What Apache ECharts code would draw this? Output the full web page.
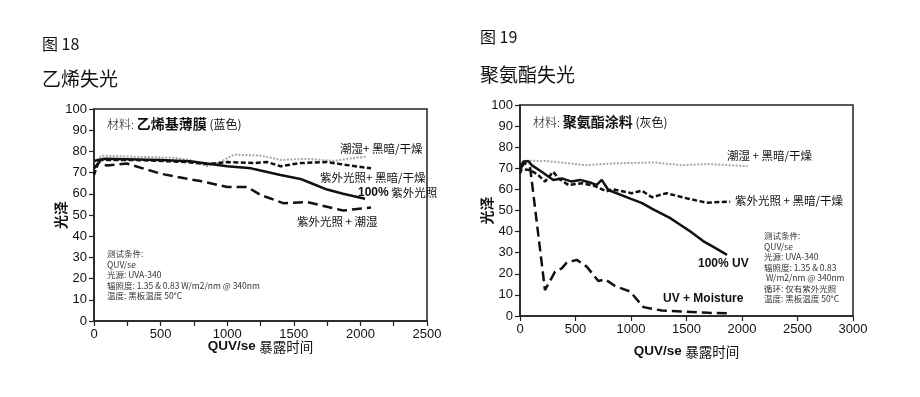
<!DOCTYPE html>
<html>
<head>
<meta charset="utf-8">
<script src="https://cdn.jsdelivr.net/npm/echarts@6/dist/echarts.min.js"></script>
<style>
  html, body { margin: 0; padding: 0; background: #fff; }
  #container { width: 920px; height: 397px; }
</style>
</head>
<body>
<div id="container"></div>
<script>
var dom = document.getElementById('container');
var myChart = echarts.init(dom, null, { renderer: 'canvas' });

// --- 图 18: 乙烯基薄膜 (hours, gloss) ---
var vinylHumidDark = [[0, 75], [60, 78], [300, 77.5], [600, 77], [720, 76], [850, 73], [950, 75], [1050, 78.5], [1250, 78], [1400, 76], [1600, 76.5], [1800, 75.5], [1900, 76.5], [2050, 77.5]];
var vinylUvDark = [[0, 69], [40, 76], [300, 76], [700, 75], [850, 74], [1000, 75], [1200, 74.5], [1300, 75], [1400, 73], [1550, 74.5], [1750, 75], [1850, 74], [2080, 72]];
var vinylUv = [[0, 75.5], [80, 76.5], [500, 76], [720, 75.3], [1000, 73], [1180, 72], [1250, 71], [1400, 68.9], [1550, 67], [1650, 64.5], [1750, 62], [1870, 60], [2035, 57.7]];
var vinylUvMoist = [[0, 72], [45, 75.3], [95, 73.3], [245, 74.3], [500, 69.5], [680, 67.3], [800, 66], [1000, 63.2], [1150, 63.2], [1250, 59.5], [1420, 55.6], [1600, 56.1], [1870, 52.1], [2080, 53.5]];

// --- 图 19: 聚氨酯涂料 ---
var puHumidDark = [[0, 70], [40, 73.6], [250, 73.4], [590, 71.5], [830, 72.3], [1200, 72.8], [1350, 72], [1450, 71.5], [1700, 72], [2050, 71]];
var puUvDark = [[0, 67.6], [15, 69.5], [90, 69.2], [165, 66.8], [225, 63.7], [300, 68.4], [346, 65.2], [436, 62.1], [556, 62.9], [676, 61.6], [780, 59], [826, 60.1], [1007, 58.2], [1097, 59.4], [1187, 56.3], [1320, 58.2], [1500, 55.8], [1680, 53.7], [1894, 54.2]];
var puUv = [[0, 70], [30, 73.2], [75, 73.4], [105, 71.5], [195, 68.4], [300, 64.5], [376, 65.2], [466, 63.7], [541, 64.5], [646, 63], [691, 62.1], [736, 64.5], [796, 59.7], [1000, 55.5], [1100, 53.5], [1200, 50.5], [1350, 46.5], [1450, 43], [1550, 39.5], [1650, 35.5], [1750, 32.5], [1865, 29]];
var puUvMoist = [[0, 69.5], [40, 72.5], [90, 71], [225, 12.3], [316, 21], [376, 22.6], [421, 25.3], [511, 26.6], [601, 23.4], [706, 16.6], [766, 17.4], [857, 14.2], [992, 11.6], [1112, 4.2], [1278, 2.6], [1500, 2], [1700, 1.5], [1900, 1.2]];

var latin = "'Liberation Sans', 'Noto Sans CJK SC', sans-serif";
var cjk = "'Noto Sans CJK SC', sans-serif";

function yAxisFor(gridIndex) {
    return {
        gridIndex: gridIndex,
        type: 'value',
        min: 0,
        max: 100,
        interval: 10,
        name: '光泽',
        nameLocation: 'middle',
        nameRotate: 90,
        nameGap: 26,
        nameMoveOverlap: false,
        nameTextStyle: { fontFamily: cjk, fontWeight: 'bold', fontSize: 14, color: '#111' },
        axisLine: { show: true, lineStyle: { color: '#222', width: 1.5 } },
        axisTick: { show: true, length: 5, lineStyle: { color: '#222', width: 1.2 } },
        axisLabel: { margin: 7, fontFamily: latin, fontSize: 13, color: '#111' },
        splitLine: { show: false }
    };
}

function xAxisFor(gridIndex, max, interval, gap) {
    return {
        gridIndex: gridIndex,
        type: 'value',
        min: 0,
        max: max,
        interval: interval,
        name: '{b|QUV/se} {n|暴露时间}',
        nameLocation: 'middle',
        nameGap: gap,
        nameMoveOverlap: false,
        nameTextStyle: {
            rich: {
                b: { fontFamily: latin, fontWeight: 'bold', fontSize: 13.5, color: '#111' },
                n: { fontFamily: cjk, fontSize: 13.5, color: '#111' }
            }
        },
        axisLine: { show: true, lineStyle: { color: '#222', width: 1.5 } },
        axisTick: { show: true, length: 5, lineStyle: { color: '#222', width: 1.2 } },
        axisLabel: {
            margin: 7,
            fontFamily: latin,
            fontSize: 13,
            color: '#111',
            formatter: function (v) { return v % 500 === 0 ? String(v) : ''; }
        },
        splitLine: { show: false }
    };
}

function lineSeries(name, idx, data, style) {
    return {
        name: name,
        type: 'line',
        xAxisIndex: idx,
        yAxisIndex: idx,
        data: data,
        showSymbol: false,
        symbol: 'none',
        smooth: false,
        lineStyle: style,
        z: 3
    };
}

var dotted = { color: '#a8a8a8', width: 2, type: [2, 1.5] };
var shortDash = { color: '#111', width: 2.5, type: [5, 2.5] };
var longDash = { color: '#111', width: 2.5, type: [10, 5] };
var solid = { color: '#111', width: 2.5, type: 'solid' };

function txt(left, top, text, size, extra) {
    var s = { text: text, font: (extra && extra.weight ? extra.weight + ' ' : '') + size + 'px ' + cjk, fill: '#111' };
    if (extra && extra.rich) s.rich = extra.rich;
    if (extra && extra.lineHeight) s.lineHeight = extra.lineHeight;
    if (extra && extra.fill) s.fill = extra.fill;
    return { type: 'text', left: left, top: top, style: s, z: 10 };
}

var condStyle = { fill: '#333', lineHeight: 10.5 };

option = {
    animation: false,
    backgroundColor: '#fff',
    grid: [
        { left: 94, top: 109, width: 333, height: 212, show: true, borderColor: '#222', borderWidth: 1.5, backgroundColor: 'transparent' },
        { left: 520, top: 105, width: 333, height: 211, show: true, borderColor: '#222', borderWidth: 1.5, backgroundColor: 'transparent' }
    ],
    xAxis: [xAxisFor(0, 2500, 250, 19), xAxisFor(1, 3000, 500, 29)],
    yAxis: [yAxisFor(0), yAxisFor(1)],
    series: [
        lineSeries('潮湿+ 黑暗/干燥', 0, vinylHumidDark, dotted),
        lineSeries('紫外光照+ 黑暗/干燥', 0, vinylUvDark, shortDash),
        lineSeries('100% 紫外光照', 0, vinylUv, solid),
        lineSeries('紫外光照 + 潮湿', 0, vinylUvMoist, longDash),
        lineSeries('潮湿 + 黑暗/干燥', 1, puHumidDark, dotted),
        lineSeries('紫外光照 + 黑暗/干燥', 1, puUvDark, shortDash),
        lineSeries('100% UV', 1, puUv, solid),
        lineSeries('UV + Moisture', 1, puUvMoist, longDash)
    ],
    graphic: [
        txt(42, 36, '图 18', 16),
        txt(42, 69, '乙烯失光', 19),
        txt(480, 29, '图 19', 16),
        txt(480, 65, '聚氨酯失光', 19),

        txt(107, 117, '{a|材料:} {b|乙烯基薄膜} {c|(蓝色)}', 12, { rich: {
            a: { fontFamily: cjk, fontSize: 12, fontWeight: 300, color: '#333' },
            b: { fontFamily: cjk, fontSize: 14, fontWeight: 'bold', color: '#111' },
            c: { fontFamily: cjk, fontSize: 12, color: '#111' }
        } }),
        txt(340, 143, '潮湿+ 黑暗/干燥', 11.5),
        txt(320, 172, '紫外光照+ 黑暗/干燥', 11.5),
        txt(358, 187, '{b|100%} {n|紫外光照}', 11.5, { rich: {
            b: { fontFamily: latin, fontSize: 12, fontWeight: 'bold', color: '#111' },
            n: { fontFamily: cjk, fontSize: 11.5, color: '#111' }
        } }),
        txt(297, 216, '紫外光照 + 潮湿', 11.5),
        txt(107, 249, '测试条件:\nQUV/se\n光源: UVA-340\n辐照度: 1.35 & 0.83 W/m2/nm @ 340nm\n温度: 黑板温度 50°C', 8.5, condStyle),

        txt(533, 115, '{a|材料:} {b|聚氨酯涂料} {c|(灰色)}', 12, { rich: {
            a: { fontFamily: cjk, fontSize: 12, fontWeight: 300, color: '#333' },
            b: { fontFamily: cjk, fontSize: 14, fontWeight: 'bold', color: '#111' },
            c: { fontFamily: cjk, fontSize: 12, color: '#111' }
        } }),
        txt(727, 150, '潮湿 + 黑暗/干燥', 11.5),
        txt(735, 195, '紫外光照 + 黑暗/干燥', 11.5),
        txt(698, 258, '{b|100% UV}', 12, { rich: { b: { fontFamily: latin, fontSize: 12, fontWeight: 'bold', color: '#111' } } }),
        txt(663, 293, '{b|UV + Moisture}', 12, { rich: { b: { fontFamily: latin, fontSize: 12, fontWeight: 'bold', color: '#111' } } }),
        txt(764, 231, '测试条件:\nQUV/se\n光源: UVA-340\n辐照度: 1.35 & 0.83\n W/m2/nm @ 340nm\n循环: 仅有紫外光照\n温度: 黑板温度 50°C', 8.5, condStyle)
    ]
};

myChart.setOption(option);
</script>
</body>
</html>
